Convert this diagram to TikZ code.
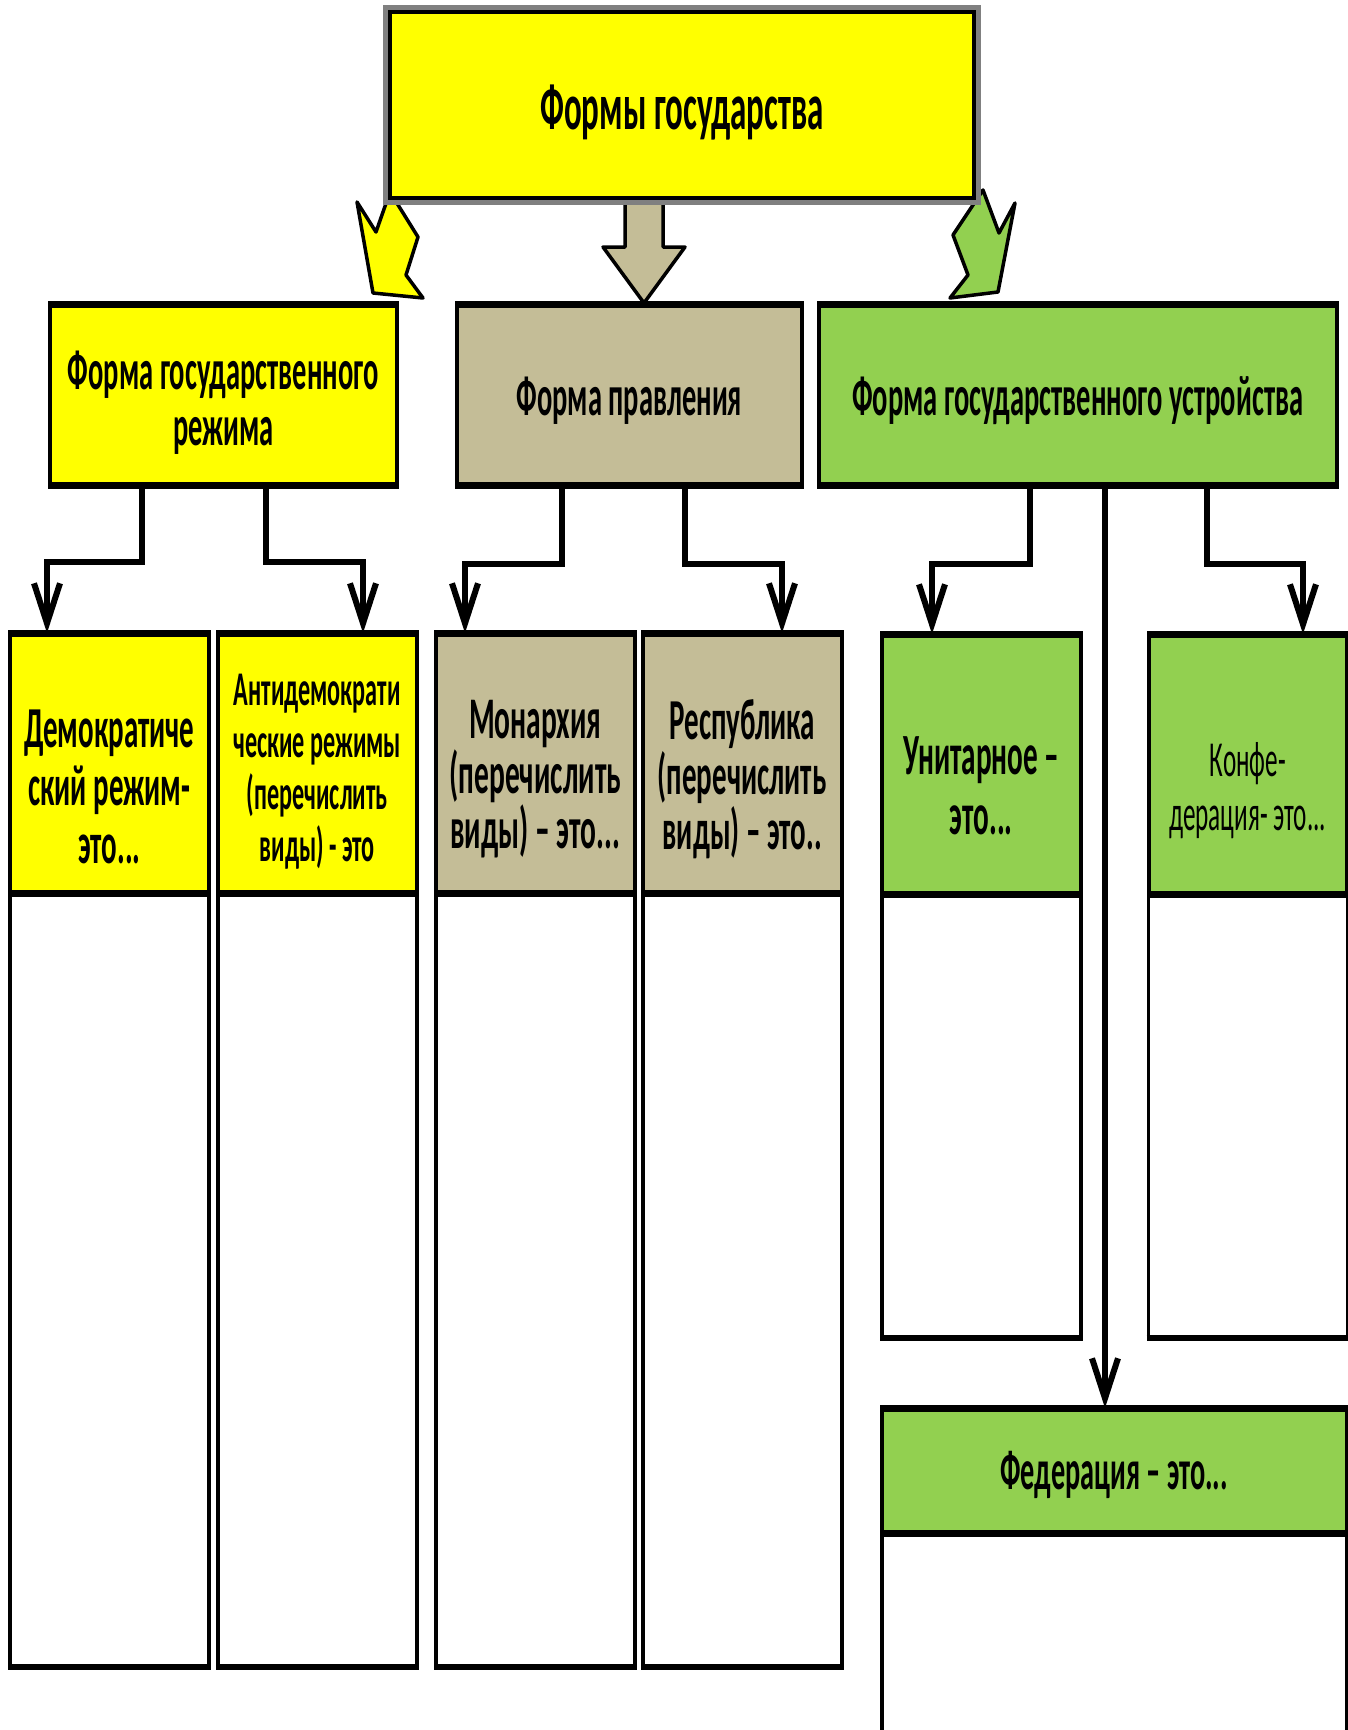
\documentclass[tikz,border=0pt]{standalone}
\usepackage{fontspec}
\setmainfont{Carlito}
\newfontfamily\condfont{Carlito}[FakeStretch=0.5]
\usetikzlibrary{positioning,arrows.meta}
\definecolor{formyellow}{HTML}{FFFF00}
\definecolor{formtan}{HTML}{C4BD97}
\definecolor{formgreen}{HTML}{92D050}
% condensed text, size and line distance
\newcommand{\condsize}[2]{\condfont\fontsize{#1}{#2}\selectfont\lineskiplimit=-50pt\relax}

\begin{document}
\begin{tikzpicture}[x=0.5pt,y=-0.5pt,
	formbox/.style={draw=black, line width=1.75pt, inner sep=0pt, anchor=north west},
	yel/.style={formbox, fill=formyellow},
	tan/.style={formbox, fill=formtan},
	grn/.style={formbox, fill=formgreen},
	col/.style={minimum width=99.5pt, minimum height=128.5pt},
	lbl/.style={align=center, inner sep=0pt},
	body/.style={draw=black, line width=1.75pt, fill=white, inner sep=0pt, minimum width=99.5pt},
	edge/.style={line width=3pt},
	conn/.style={line width=3pt, -{Straight Barb[length=20pt,width=13pt]}},
	blockarrow/.style={draw=black, line width=1.75pt, line join=round}]
	\useasboundingbox (0,0) rectangle (1348,1730);
	\clip (0,0) rectangle (1348,1730);

	% block arrows under the title
	\filldraw[blockarrow, fill=formyellow] (390,192) -- (418,237) -- (406,275) -- (423,298) -- (373,293) -- (357,202) -- (376,232) -- cycle;
	\filldraw[blockarrow, fill=formgreen] (983,190) -- (953,235) -- (968,275) -- (950,298) -- (998,292) -- (1015,203) -- (999,233) -- cycle;
	\filldraw[blockarrow, fill=formtan] (625,196) -- (663,196) -- (663,247) -- (685,247) -- (644,303) -- (603,247) -- (625,247) -- cycle;

	% title
	\node[yel, line width=2pt, minimum width=292pt, minimum height=93pt] (forms) at (388,10) {};
	\draw[gray, line width=2.5pt] ([shift={(-1.25pt,1.25pt)}]forms.north west) rectangle ([shift={(1.25pt,-1.25pt)}]forms.south east);
	\node[lbl, font=\condsize{33pt}{36pt}\bfseries] (forms-text) at ([yshift=-4pt]forms.center) {Формы государства};

	% second level
	\node[yel, minimum width=173.5pt, minimum height=89pt] (regime) at (48,304) {};
	\node[tan, minimum width=172.5pt, minimum height=89pt] (govern) at (455,304) {};
	\node[grn, minimum width=259pt, minimum height=89pt] (struct) at (817,304) {};
	\node[lbl, font=\condsize{28.5pt}{28pt}\bfseries] (regime-text) at ([yshift=-4pt]regime.center) {Форма государственного\\режима};
	\node[lbl, font=\condsize{28.5pt}{31pt}\bfseries] (govern-text) at ([yshift=-3pt]govern.center) {Форма правления};
	\node[lbl, font=\condsize{28.5pt}{31pt}\bfseries] (struct-text) at ([yshift=-3pt]struct.center) {Форма государственного устройства};

	% third level
	\node[yel, col] (dem) at (8,633) {};
	\node[yel, col] (anti) at (216,633) {};
	\node[tan, col] (mon) at (434,633) {};
	\node[tan, col] (rep) at (641,633) {};
	\node[grn, col] (unit) at (880,634) {};
	\node[grn, col, minimum width=99pt] (conf) at (1147,634) {};
	\node[grn, minimum width=232.5pt, minimum height=61pt] (fed) at (880,1408) {};

	\node[lbl, font=\condsize{29pt}{29pt}\bfseries] (dem-text) at ([yshift=-12pt]dem.center) {Демократиче\\ский режим-\\это...};
	\node[lbl, font=\condsize{24.2pt}{26pt}\bfseries] (anti-text) at ([yshift=-4pt]anti.center) {Антидемократи\\ческие режимы\\(перечислить\\виды) - это};
	\node[lbl, font=\condsize{29.5pt}{27.5pt}\bfseries] (mon-text) at ([yshift=-8pt]mon.center) {Монархия\\(перечислить\\виды) – это...};
	\node[lbl, font=\condsize{29pt}{27.5pt}\bfseries] (rep-text) at ([yshift=-8pt]rep.center) {Республика\\(перечислить\\виды) – это..};
	\node[lbl, font=\condsize{29.2pt}{30pt}\bfseries] (unit-text) at ([yshift=-11pt]unit.center) {Унитарное –\\это...};
	\node[lbl, font=\condsize{25.2pt}{27pt}] (conf-text) at ([yshift=-13pt]conf.center) {Конфе-\\дерация- это...};
	\node[lbl, font=\condsize{28.3pt}{30pt}\bfseries] (fed-text) at ([yshift=-2pt]fed.center) {Федерация – это...};

	% empty answer boxes
	\foreach \n in {dem,anti,mon,rep}
		\node[body, minimum height=385pt, below=0pt of \n] (\n-body) {};
	\foreach \n in {unit,conf}
		\node[body, minimum height=220pt, below=0pt of \n] (\n-body) {};
	\node[body, minimum width=232.5pt, minimum height=120pt, below=0pt of fed] (fed-body) {};

	% heavier top and bottom edges
	\foreach \n in {regime,govern,struct,dem,anti,mon,rep,unit,conf,fed}
		\draw[edge] (\n.north west) -- (\n.north east);
	\foreach \n in {regime,govern,struct,dem-body,anti-body,mon-body,rep-body,unit-body,conf-body}
		\draw[edge] (\n.south west) -- (\n.south east);

	% connectors
	\draw[conn] ([xshift=47pt]regime.south west) -- ++(0,76) -| ([xshift=19.5pt]dem.north west);
	\draw[conn] ([xshift=109pt]regime.south west) -- ++(0,76) -| ([xshift=73.5pt]anti.north west);
	\draw[conn] ([xshift=53.5pt]govern.south west) -- ++(0,78) -| ([xshift=15.5pt]mon.north west);
	\draw[conn] ([xshift=115pt]govern.south west) -- ++(0,78) -| ([xshift=70.5pt]rep.north west);
	\draw[conn] ([xshift=106.5pt]struct.south west) -- ++(0,78) -| ([xshift=26pt]unit.north west);
	\draw[conn] ([xshift=195pt]struct.south west) -- ++(0,78) -| ([xshift=78pt]conf.north west);
	\draw[conn] ([xshift=144pt]struct.south west) -- ([xshift=112.5pt]fed.north west);
\end{tikzpicture}
\end{document}
